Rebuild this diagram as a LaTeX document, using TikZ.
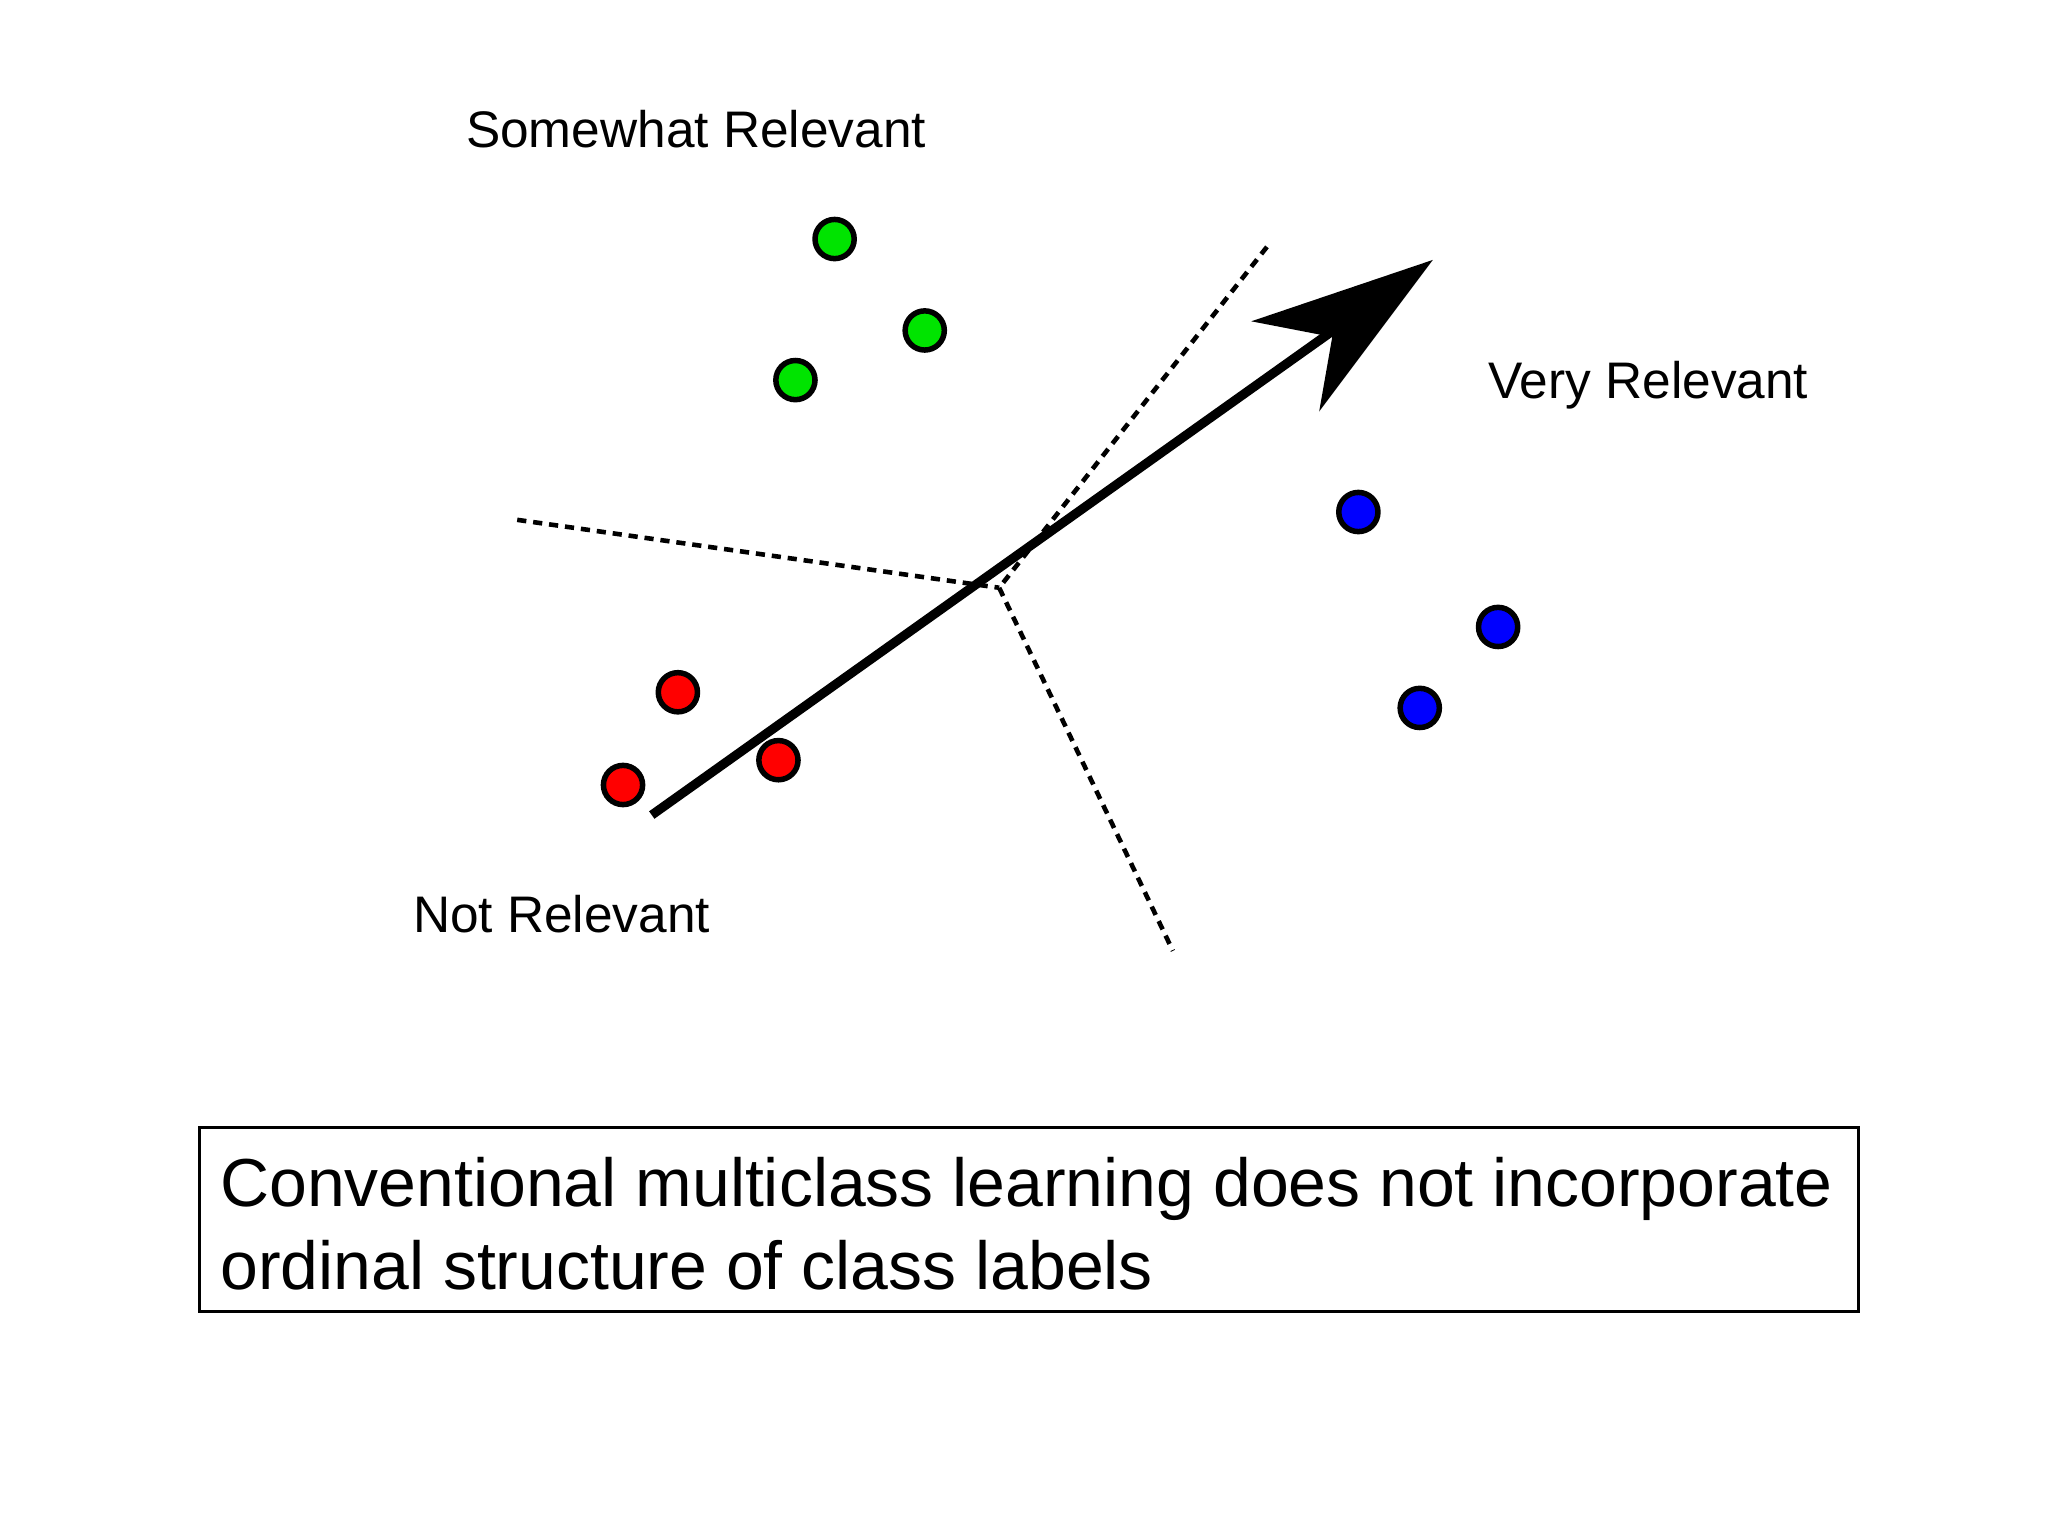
\documentclass[tikz,border=0pt]{standalone}
\usepackage{fontspec}
\setmainfont{Liberation Sans}
\begin{document}
\begin{tikzpicture}[x=0.1mm,y=-0.1mm,
  dot/.style={circle,draw=black,line width=1.2pt,minimum size=3mm,inner sep=0pt},
  lbl/.style={font=\fontsize{11.2}{13}\selectfont},
  dline/.style={line width=1pt,dash pattern=on 2pt off 1.5pt}]
\useasboundingbox (0,0) rectangle (1568,1176);
\node[lbl] (sr) at (533,99) {Somewhat Relevant};
\node[lbl] (vr) at (1262,295) {Very Relevant};
\node[lbl] (nr) at (430,700) {Not Relevant};
\foreach \n/\x/\y in {g1/639/183,g2/708/253,g3/609/291}
  \node[dot,fill=green!85!black!70!green] (\n) at (\x,\y) {};
\foreach \n/\x/\y in {b1/1040/392,b2/1147/480,b3/1087/542}
  \node[dot,fill=blue] (\n) at (\x,\y) {};
\foreach \n/\x/\y in {r1/519/530,r2/596/582,r3/477/601}
  \node[dot,fill=red] (\n) at (\x,\y) {};
\coordinate (c) at (765,450);
\coordinate (d1) at (396,398);
\coordinate (d2) at (970,189);
\coordinate (d3) at (898,728);
\draw[dline] (d1) -- (c);
\draw[dline] (d2) -- (c);
\draw[dline] (c) -- (d3);
\coordinate (as) at (499,624);
\coordinate (ae) at (1025,250);
\coordinate (tip) at (1097,199);
\draw[line width=2pt] (as) -- (ae);
\fill (tip) -- (958,246) -- (1020,258) -- (1010,315) -- cycle;
\node[draw=black,line width=0.6pt,minimum width=127mm,minimum height=14.1mm,inner sep=0pt] (box) at (788,933.5) {};
\node[anchor=west,align=left,font=\fontsize{14.8}{18}\selectfont,inner sep=0pt] (txt) at (168,937)
 {Conventional multiclass learning does not incorporate\\ordinal structure of class labels};
\end{tikzpicture}
\end{document}
